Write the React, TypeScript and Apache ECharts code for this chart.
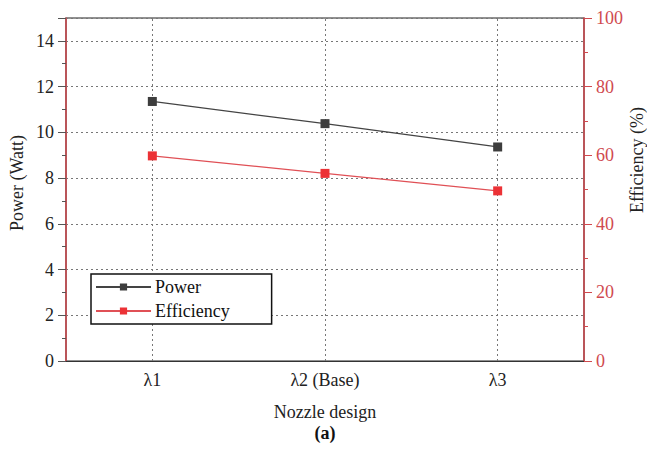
import React, { useEffect, useRef } from "react";
import * as echarts from "echarts";

const categories = ["λ1", "λ2 (Base)", "λ3"];
const powerValues = [11.35, 10.38, 9.36];
const efficiencyValues = [59.8, 54.7, 49.6];
const seriesNames = ["Power", "Efficiency"];
const leftAxisTitle = "Power (Watt)";
const rightAxisTitle = "Efficiency (%)";

const FONT = "serif";
const FS = 18;
const RED = "#d04a4f";

export default function App() {
  const ref = useRef<HTMLDivElement>(null);
  useEffect(() => {
    if (!ref.current) return;
    const chart = echarts.init(ref.current, null, { renderer: "svg" });
    const vlines = categories.map((c) => ({ xAxis: c }));
    chart.setOption({
      animation: false,
      backgroundColor: "#fff",
      textStyle: { fontFamily: FONT },
      grid: {
        left: 66,
        right: 63,
        top: 18,
        bottom: 92,
        show: true,
        borderColor: "#222",
        borderWidth: 1.2,
        backgroundColor: "transparent",
        containLabel: false,
        outerBoundsMode: "none",
      },
      legend: {
        orient: "vertical",
        left: 91,
        top: 274,
        data: seriesNames,
        borderColor: "#111",
        borderWidth: 1.5,
        backgroundColor: "#fff",
        padding: [4, 42, 4, 4],
        itemWidth: 55,
        itemHeight: 9,
        itemGap: 6,
        textStyle: { fontFamily: FONT, fontSize: FS, color: "#111", padding: [0, 0, 0, -1] },
      },
      xAxis: [
        {
          type: "category",
          data: categories,
          boundaryGap: true,
          axisLine: { lineStyle: { color: "#333", width: 1.2 } },
          axisTick: { alignWithLabel: true, length: 6, lineStyle: { color: "#222", width: 1.2 } },
          axisLabel: { fontFamily: FONT, fontSize: FS, color: "#222", margin: 10 },
          splitLine: { show: false },
          name: "Nozzle design",
          nameLocation: "middle",
          nameGap: 42,
          nameTextStyle: { fontFamily: FONT, fontSize: FS, color: "#222" },
        },
        {
          type: "category",
          data: categories,
          boundaryGap: true,
          position: "bottom",
          axisLine: { show: false },
          axisTick: { length: 3, lineStyle: { color: "#333" } },
          axisLabel: { show: false },
          splitLine: { show: false },
        },
      ],
      yAxis: [
        {
          type: "value",
          min: 0,
          max: 15,
          interval: 2,
          position: "left",
          axisLine: { show: true, lineStyle: { color: RED, width: 1.5 } },
          axisTick: { show: true, length: 8, lineStyle: { color: "#555" } },
          minorTick: { show: true, splitNumber: 2, length: 4, lineStyle: { color: "#555" } },
          axisLabel: { fontFamily: FONT, fontSize: FS, color: "#222", margin: 12, showMaxLabel: false },
          splitLine: { show: true, lineStyle: { color: "#777", type: [2, 3], width: 1 } },
        },
        {
          type: "value",
          min: 0,
          max: 100,
          interval: 20,
          position: "right",
          axisLine: { show: true, lineStyle: { color: RED, width: 1.5 } },
          axisTick: { show: true, length: 8, lineStyle: { color: RED } },
          minorTick: { show: true, splitNumber: 2, length: 4, lineStyle: { color: RED } },
          axisLabel: { fontFamily: FONT, fontSize: FS, color: RED, margin: 12 },
          splitLine: { show: false },
        },
      ],
      graphic: [
        {
          type: "text",
          x: 325,
          y: 433,
          style: {
            text: "(a)",
            fontFamily: FONT,
            fontSize: FS,
            fontWeight: "bold",
            fill: "#111",
            align: "center",
            verticalAlign: "middle",
          },
        },
        {
          type: "text",
          x: 17,
          y: 183,
          rotation: Math.PI / 2,
          style: {
            text: leftAxisTitle,
            fontFamily: FONT,
            fontSize: FS,
            fill: "#222",
            align: "center",
            verticalAlign: "middle",
          },
        },
        {
          type: "text",
          x: 637,
          y: 160,
          rotation: Math.PI / 2,
          style: {
            text: rightAxisTitle,
            fontFamily: FONT,
            fontSize: FS,
            fill: "#222",
            align: "center",
            verticalAlign: "middle",
          },
        },
      ],
      series: [
        {
          name: seriesNames[0],
          type: "line",
          xAxisIndex: 0,
          yAxisIndex: 0,
          data: powerValues,
          symbol: "rect",
          symbolSize: 9,
          itemStyle: { color: "#3d3d3d" },
          lineStyle: { color: "#444", width: 1.2 },
          markLine: {
            silent: true,
            symbol: "none",
            label: { show: false },
            lineStyle: { color: "#777", type: [2, 3], width: 1 },
            data: vlines,
            z: 1,
          },
          z: 5,
        },
        {
          name: seriesNames[1],
          type: "line",
          xAxisIndex: 0,
          yAxisIndex: 1,
          data: efficiencyValues,
          symbol: "rect",
          symbolSize: 9,
          itemStyle: { color: "#ec3236" },
          lineStyle: { color: "#e05056", width: 1.2 },
          z: 5,
        },
      ],
    });
    return () => chart.dispose();
  }, []);
  return (
    <div
      ref={ref}
      style={{ width: 647, height: 453, position: "fixed", left: 0, top: 0 }}
    />
  );
}
